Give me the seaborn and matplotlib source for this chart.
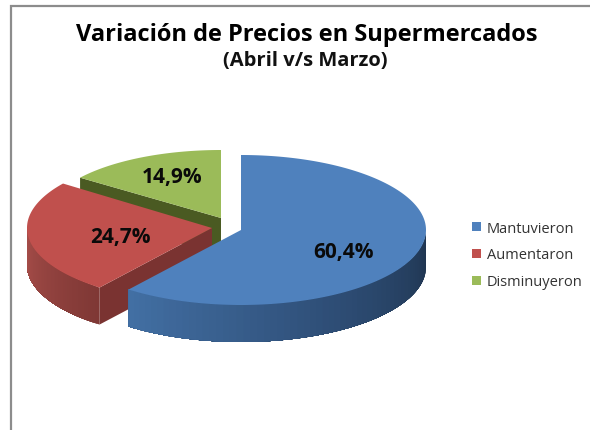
import numpy as np
import seaborn as sns
import matplotlib
matplotlib.use('Agg')
import matplotlib.pyplot as plt
from matplotlib.patches import Patch

# datos
categorias = ['Mantuvieron', 'Aumentaron', 'Disminuyeron']
valores = [60.4, 24.7, 14.9]
colores = ['#4f81bd', '#c0504d', '#9bbb59']

titulo = 'Variación de Precios en Supermercados'
subtitulo = '(Abril v/s Marzo)'

sns.set_theme(style='white')
plt.rcParams['font.family'] = ['Open Sans', 'DejaVu Sans']

fig = plt.figure(figsize=(5.9, 4.31), dpi=100)
ax = fig.add_axes([0, 0, 1, 1])
ax.set_xlim(0, 590)
ax.set_ylim(431, 0)
ax.axis('off')

# marco del grafico
ax.plot([11, 11, 590], [431, 7, 7], color='#8c8c8c', lw=1.6, solid_joinstyle='miter')

# geometria de cada porcion: centro, radios, y degradado de la pared exterior
centros = [(241, 231), (212, 229), (221, 219)]
radios = [(185, 75), (185, 75), (175, 68)]
alto = 37
pared_ext = [sns.blend_palette(['#1f3550', '#2f4f78', '#426fa3'], 60),
             sns.blend_palette(['#7f3835', '#a84e4a'], 60),
             sns.blend_palette(['#4a5a22', '#4a5a22'], 60)]
pared_corte = ['#1f3550', '#7a3331', '#4a5a22']

acum = np.cumsum([0] + valores) / sum(valores) * 360


def borde(i, t):
    cx, cy = centros[i]
    rx, ry = radios[i]
    t = np.radians(t)
    return cx + rx * np.sin(t), cy - ry * np.cos(t)


# de atras hacia adelante: verde, rojo, azul
for i in [2, 1, 0]:
    t0, t1 = acum[i], acum[i + 1]
    cx, cy = centros[i]
    z = (2 - i) * 3 + 3
    tt = np.linspace(t0, t1, 200)
    x, y = borde(i, tt)

    # pared del corte inicial (rojo y verde la muestran)
    if i > 0:
        xs, ys = borde(i, t0)
        ax.fill([cx, xs, xs, cx], [cy, ys, ys + alto, cy + alto],
                color=pared_corte[i], lw=0, zorder=z)

    # pared exterior con degradado, solo lo que mira al frente
    a, b = max(t0, 90), min(t1, 270)
    if b > a:
        cortes = np.linspace(a, b, len(pared_ext[i]) + 1)
        for k, c in enumerate(pared_ext[i]):
            # cada tramo llega hasta el final, se tapa con el siguiente y no quedan rayas
            ts = np.linspace(cortes[k], b, 60)
            xk, yk = borde(i, ts)
            ax.fill(np.r_[xk, xk[::-1]], np.r_[yk, yk[::-1] + alto],
                    color=c, lw=0, zorder=z)

    # cara superior
    ax.fill(np.r_[cx, x], np.r_[cy, y], color=colores[i], lw=0, zorder=z + 1)

# porcentajes
pos_etiquetas = [(343, 253), (120, 238), (172, 178)]
for v, (px, py) in zip(valores, pos_etiquetas):
    ax.text(px, py, f'{v:.1f}%'.replace('.', ','), ha='center', va='center',
            fontsize=15, fontweight='bold', color='#0a0a0a', zorder=20)

ax.text(307, 35, titulo, ha='center', va='center', fontsize=17, fontweight='bold', color='black')
ax.text(305, 61, subtitulo, ha='center', va='center', fontsize=14.5, fontweight='bold', color='#111111')

handles = [Patch(facecolor=c, edgecolor='none', label=n) for c, n in zip(colores, categorias)]
ax.legend(handles=handles, loc='center left', bbox_to_anchor=(472 / 590, 1 - 256 / 431),
          frameon=False, fontsize=10.5, labelspacing=0.82, handlelength=0.6, handleheight=0.6,
          handletextpad=0.4, borderpad=0, borderaxespad=0, labelcolor='#333333')

plt.savefig('out.png', dpi=100)
